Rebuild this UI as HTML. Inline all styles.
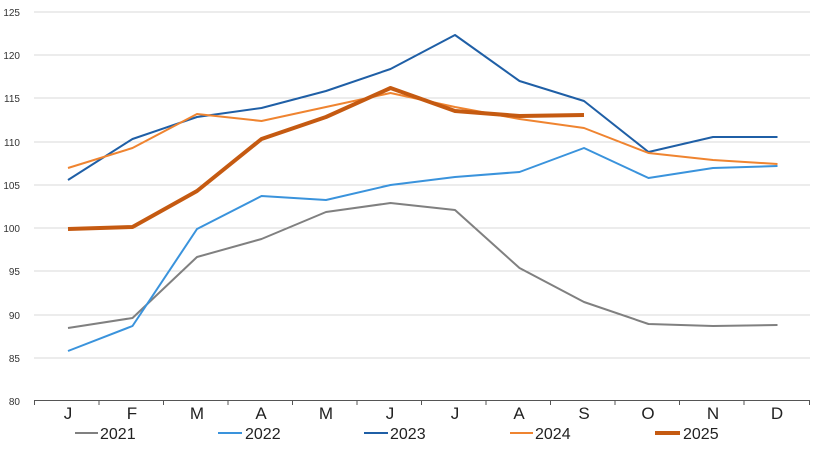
<!DOCTYPE html><html><head><style>body{margin:0;background:#fff}svg{display:block;font-family:"Liberation Sans",sans-serif}</style></head><body>
<svg width="820" height="452" viewBox="0 0 820 452">
<g stroke="#d9d9d9" stroke-width="1">
<line x1="34" x2="810" y1="12" y2="12"/><line x1="34" x2="810" y1="55" y2="55"/><line x1="34" x2="810" y1="98" y2="98"/><line x1="34" x2="810" y1="142" y2="142"/><line x1="34" x2="810" y1="185" y2="185"/><line x1="34" x2="810" y1="228" y2="228"/><line x1="34" x2="810" y1="271" y2="271"/><line x1="34" x2="810" y1="315" y2="315"/><line x1="34" x2="810" y1="358" y2="358"/></g>
<g stroke="#555" stroke-width="1"><line x1="34" x2="810" y1="400.5" y2="400.5"/>
<line x1="34.5" x2="34.5" y1="400" y2="405"/><line x1="99" x2="99" y1="400" y2="405"/><line x1="163.5" x2="163.5" y1="400" y2="405"/><line x1="228" x2="228" y1="400" y2="405"/><line x1="292.5" x2="292.5" y1="400" y2="405"/><line x1="357" x2="357" y1="400" y2="405"/><line x1="421.5" x2="421.5" y1="400" y2="405"/><line x1="486" x2="486" y1="400" y2="405"/><line x1="550.5" x2="550.5" y1="400" y2="405"/><line x1="615" x2="615" y1="400" y2="405"/><line x1="679.5" x2="679.5" y1="400" y2="405"/><line x1="744" x2="744" y1="400" y2="405"/><line x1="809.5" x2="809.5" y1="400" y2="405"/></g>
<g font-size="10" fill="#333" text-anchor="end"><text x="20" y="16">125</text><text x="20" y="59">120</text><text x="20" y="102">115</text><text x="20" y="146">110</text><text x="20" y="189">105</text><text x="20" y="232">100</text><text x="20" y="275">95</text><text x="20" y="319">90</text><text x="20" y="362">85</text><text x="20" y="405">80</text></g>
<g font-size="17" fill="#222" text-anchor="middle"><text x="68" y="419">J</text><text x="132" y="419">F</text><text x="197" y="419">M</text><text x="261" y="419">A</text><text x="326" y="419">M</text><text x="390" y="419">J</text><text x="455" y="419">J</text><text x="519" y="419">A</text><text x="584" y="419">S</text><text x="648" y="419">O</text><text x="713" y="419">N</text><text x="777" y="419">D</text></g>
<g fill="none" stroke-linejoin="round">
<polyline stroke="#808080" stroke-width="2" points="68,328 132.5,318 197,257 261.5,239 326,212 390.5,203 455,210 519.5,268 584,302 648.5,324 713,326 777.5,325"/>
<polyline stroke="#3a93dc" stroke-width="2" points="68,351 132.5,326 197,229 261.5,196 326,200 390.5,185 455,177 519.5,172 584,148 648.5,178 713,168 777.5,166"/>
<polyline stroke="#1f5fa6" stroke-width="2" points="68,180 132.5,139 197,117 261.5,108 326,91 390.5,69 455,35 519.5,81 584,101 648.5,152 713,137 777.5,137"/>
<polyline stroke="#ef8430" stroke-width="2" points="68,168 132.5,148 197,114 261.5,121 326,107 390.5,93 455,107 519.5,119 584,128 648.5,153 713,160 777.5,164"/>
<polyline stroke="#c55a11" stroke-width="4" points="68,229 132.5,227 197,191 261.5,139 326,117 390.5,88 455,111 519.5,116 584,115"/>
</g>
<g font-size="16" fill="#222">
<line x1="75" x2="98" y1="433" y2="433" stroke="#808080" stroke-width="2"/><text x="100" y="439">2021</text>
<line x1="218" x2="242" y1="433" y2="433" stroke="#3a93dc" stroke-width="2"/><text x="245" y="439">2022</text>
<line x1="364" x2="388" y1="433" y2="433" stroke="#1f5fa6" stroke-width="2"/><text x="390" y="439">2023</text>
<line x1="510" x2="533" y1="433" y2="433" stroke="#ef8430" stroke-width="2"/><text x="535" y="439">2024</text>
<line x1="655" x2="680" y1="433" y2="433" stroke="#c55a11" stroke-width="4"/><text x="683" y="439">2025</text>
</g>
</svg></body></html>
